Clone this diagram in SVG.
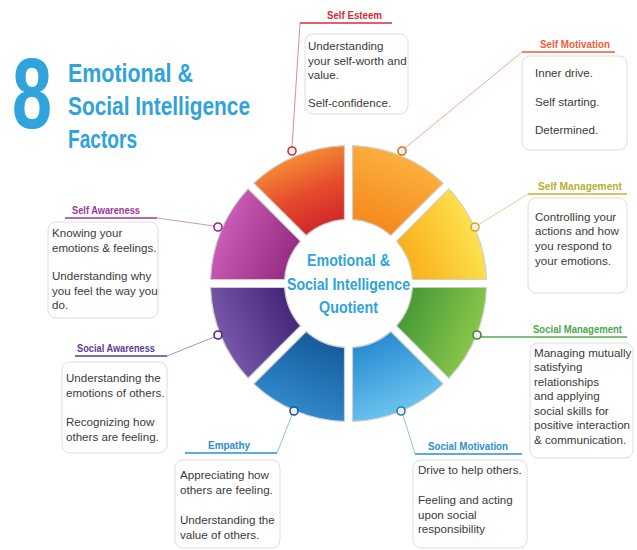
<svg xmlns="http://www.w3.org/2000/svg" width="637" height="550" viewBox="0 0 637 550">
<style>
.t{font-family:"Liberation Sans",Arial,sans-serif;font-size:11.6px;fill:#3a3a3a}
.lb{font-family:"Liberation Sans",Arial,sans-serif;font-size:11px;font-weight:bold}
.ti{font-family:"Liberation Sans",Arial,sans-serif;font-weight:bold;fill:#2ea3dc}
.box{fill:#fff;stroke:#dedede;stroke-width:1}
.seg{stroke:#cfcfcf;stroke-width:1.2}
.dot{fill:#f4eef4;stroke-width:1.6}
.con{fill:none;stroke-width:1}
.ul{fill:none;stroke-width:1.6}
</style>
<defs>
<linearGradient id="gSE" gradientUnits="userSpaceOnUse" x1="324" y1="224" x2="296" y2="156"><stop offset="0" stop-color="#d22a2b"/><stop offset="0.45" stop-color="#e44a2c"/><stop offset="1" stop-color="#f58b35"/></linearGradient>
<linearGradient id="gSMo" gradientUnits="userSpaceOnUse" x1="373" y1="224" x2="401" y2="156"><stop offset="0" stop-color="#f68a1e"/><stop offset="1" stop-color="#fbb03d"/></linearGradient>
<linearGradient id="gSMa" gradientUnits="userSpaceOnUse" x1="408" y1="259" x2="476" y2="231"><stop offset="0" stop-color="#f8b21d"/><stop offset="1" stop-color="#fde24f"/></linearGradient>
<linearGradient id="gSoM" gradientUnits="userSpaceOnUse" x1="408" y1="308" x2="476" y2="336"><stop offset="0" stop-color="#4a9c37"/><stop offset="1" stop-color="#88c64b"/></linearGradient>
<linearGradient id="gSoMo" gradientUnits="userSpaceOnUse" x1="373" y1="343" x2="401" y2="411"><stop offset="0" stop-color="#2a8ed3"/><stop offset="1" stop-color="#6cc3ee"/></linearGradient>
<linearGradient id="gEm" gradientUnits="userSpaceOnUse" x1="324" y1="343" x2="296" y2="411"><stop offset="0" stop-color="#165d9d"/><stop offset="1" stop-color="#3189ca"/></linearGradient>
<linearGradient id="gSoA" gradientUnits="userSpaceOnUse" x1="289" y1="308" x2="221" y2="336"><stop offset="0" stop-color="#46287c"/><stop offset="1" stop-color="#7657a8"/></linearGradient>
<linearGradient id="gSA" gradientUnits="userSpaceOnUse" x1="289" y1="259" x2="221" y2="231"><stop offset="0" stop-color="#982e85"/><stop offset="1" stop-color="#c95cb4"/></linearGradient>
</defs>
<rect width="637" height="550" fill="#fff"/>

<g id="title">
<text class="ti" x="12" y="128" font-size="100" textLength="40" lengthAdjust="spacingAndGlyphs">8</text>
<text class="ti" x="68" y="82" font-size="26" textLength="125" lengthAdjust="spacingAndGlyphs">Emotional &amp;</text>
<text class="ti" x="68" y="115" font-size="26" textLength="182" lengthAdjust="spacingAndGlyphs">Social Intelligence</text>
<text class="ti" x="68" y="148" font-size="26" textLength="69" lengthAdjust="spacingAndGlyphs">Factors</text>
</g>

<g id="connectors">
<path class="con" stroke="#e08a8f" d="M300 23 L292 147"/>
<path class="ul" stroke="#d9283c" d="M300 23 H392"/>
<path class="con" stroke="#f3a88f" d="M522 52 L405 148"/>
<path class="ul" stroke="#ef5d3a" d="M522 52 H615"/>
<path class="con" stroke="#d5d19a" d="M528 194 L478 225"/>
<path class="ul" stroke="#bdb63a" d="M528 194 H627"/>
<path class="ul" stroke="#4fae4d" d="M481 337 H627"/>
<path class="con" stroke="#8cc3e8" d="M415 454 L403 415"/>
<path class="ul" stroke="#2b8fd2" d="M415 454 H522"/>
<path class="con" stroke="#8cc3e8" d="M277 453 L292 415"/>
<path class="ul" stroke="#2b8fd2" d="M185 453 H277"/>
<path class="con" stroke="#a593c8" d="M167 356 L214 337"/>
<path class="ul" stroke="#5d3c95" d="M75 356 H167"/>
<path class="con" stroke="#c99ac4" d="M157 218 L214 226"/>
<path class="ul" stroke="#9c3796" d="M65 218 H157"/>
</g>

<g id="ring">
<path class="seg" fill="url(#gSMa)" d="M486.44 279.5 A138 138 0 0 0 448.87 188.79 L396.5 241.16 A64 64 0 0 1 412.38 279.5 Z"/>
<path class="seg" fill="url(#gSMo)" d="M443.21 183.13 A138 138 0 0 0 352.5 145.56 L352.5 219.62 A64 64 0 0 1 390.84 235.5 Z"/>
<path class="seg" fill="url(#gSE)" d="M344.5 145.56 A138 138 0 0 0 253.79 183.13 L306.16 235.5 A64 64 0 0 1 344.5 219.62 Z"/>
<path class="seg" fill="url(#gSA)" d="M248.13 188.79 A138 138 0 0 0 210.56 279.5 L284.62 279.5 A64 64 0 0 1 300.5 241.16 Z"/>
<path class="seg" fill="url(#gSoA)" d="M210.56 287.5 A138 138 0 0 0 248.13 378.21 L300.5 325.84 A64 64 0 0 1 284.62 287.5 Z"/>
<path class="seg" fill="url(#gEm)" d="M253.79 383.87 A138 138 0 0 0 344.5 421.44 L344.5 347.38 A64 64 0 0 1 306.16 331.5 Z"/>
<path class="seg" fill="url(#gSoMo)" d="M352.5 421.44 A138 138 0 0 0 443.21 383.87 L390.84 331.5 A64 64 0 0 1 352.5 347.38 Z"/>
<path class="seg" fill="url(#gSoM)" d="M448.87 378.21 A138 138 0 0 0 486.44 287.5 L412.38 287.5 A64 64 0 0 1 396.5 325.84 Z"/>
<circle class="dot" cx="292" cy="151" r="4" stroke="#c0392b"/>
<circle class="dot" cx="402" cy="151" r="4" stroke="#d9741a"/>
<circle class="dot" cx="475" cy="227" r="4" stroke="#d8a817"/>
<circle class="dot" cx="477" cy="335" r="4" stroke="#3c8a32"/>
<circle class="dot" cx="401" cy="411" r="4" stroke="#1f7fc0"/>
<circle class="dot" cx="294" cy="411" r="4" stroke="#165a98"/>
<circle class="dot" cx="218" cy="335" r="4" stroke="#4a2d80"/>
<circle class="dot" cx="218" cy="227" r="4" stroke="#8e2c7f"/>
<text class="ti" x="348.5" y="266" font-size="17" text-anchor="middle" textLength="83" lengthAdjust="spacingAndGlyphs">Emotional &amp;</text>
<text class="ti" x="348.5" y="290" font-size="17" text-anchor="middle" textLength="123" lengthAdjust="spacingAndGlyphs">Social Intelligence</text>
<text class="ti" x="348.5" y="313" font-size="17" text-anchor="middle" textLength="59" lengthAdjust="spacingAndGlyphs">Quotient</text>
</g>

<g id="self-esteem">
<text class="lb" x="327" y="19" fill="#d9283c" textLength="55" lengthAdjust="spacingAndGlyphs">Self Esteem</text>
<rect class="box" x="305" y="34" width="103" height="80" rx="8"/>
<text class="t" x="308" y="50">Understanding</text>
<text class="t" x="308" y="65">your self-worth and</text>
<text class="t" x="308" y="79">value.</text>
<text class="t" x="308" y="107">Self-confidence.</text>
</g>

<g id="self-motivation">
<text class="lb" x="540" y="48" fill="#ef5d3a" textLength="70" lengthAdjust="spacingAndGlyphs">Self Motivation</text>
<rect class="box" x="522" y="56" width="105" height="94" rx="8"/>
<text class="t" x="535" y="77">Inner drive.</text>
<text class="t" x="535" y="106">Self starting.</text>
<text class="t" x="535" y="134">Determined.</text>
</g>

<g id="self-management">
<text class="lb" x="538" y="190" fill="#b7b034" textLength="84" lengthAdjust="spacingAndGlyphs">Self Management</text>
<rect class="box" x="528" y="198" width="99" height="95" rx="8"/>
<text class="t" x="535" y="221">Controlling your</text>
<text class="t" x="535" y="235">actions and how</text>
<text class="t" x="535" y="250">you respond to</text>
<text class="t" x="535" y="265">your emotions.</text>
</g>

<g id="social-management">
<text class="lb" x="533" y="333" fill="#4aa84a" font-size="10.5" textLength="89" lengthAdjust="spacingAndGlyphs">Social Management</text>
<rect class="box" x="530" y="343" width="103" height="115" rx="8"/>
<text class="t" x="534" y="357">Managing mutually</text>
<text class="t" x="534" y="371">satisfying</text>
<text class="t" x="534" y="386">relationships</text>
<text class="t" x="534" y="400">and applying</text>
<text class="t" x="534" y="415">social skills for</text>
<text class="t" x="534" y="429">positive interaction</text>
<text class="t" x="534" y="444">&amp; communication.</text>
</g>

<g id="social-motivation">
<text class="lb" x="428" y="450" fill="#2b8fd2" textLength="80" lengthAdjust="spacingAndGlyphs">Social Motivation</text>
<rect class="box" x="413" y="460" width="114" height="88" rx="8"/>
<text class="t" x="418" y="474">Drive to help others.</text>
<text class="t" x="418" y="504">Feeling and acting</text>
<text class="t" x="418" y="519">upon social</text>
<text class="t" x="418" y="533">responsibility</text>
</g>

<g id="empathy">
<text class="lb" x="208" y="449" fill="#2b8fd2" textLength="42" lengthAdjust="spacingAndGlyphs">Empathy</text>
<rect class="box" x="175" y="460" width="105" height="88" rx="8"/>
<text class="t" x="180" y="479">Appreciating how</text>
<text class="t" x="180" y="494">others are feeling.</text>
<text class="t" x="180" y="524">Understanding the</text>
<text class="t" x="180" y="539">value of others.</text>
</g>

<g id="social-awareness">
<text class="lb" x="77" y="352" fill="#5d3c95" textLength="78" lengthAdjust="spacingAndGlyphs">Social Awareness</text>
<rect class="box" x="62" y="362" width="105" height="91" rx="8"/>
<text class="t" x="66" y="382">Understanding the</text>
<text class="t" x="66" y="397">emotions of others.</text>
<text class="t" x="66" y="426">Recognizing how</text>
<text class="t" x="66" y="441">others are feeling.</text>
</g>

<g id="self-awareness">
<text class="lb" x="72" y="214" fill="#9c3796" textLength="68" lengthAdjust="spacingAndGlyphs">Self Awareness</text>
<rect class="box" x="48" y="222" width="110" height="96" rx="8"/>
<text class="t" x="52" y="237">Knowing your</text>
<text class="t" x="52" y="252">emotions &amp; feelings.</text>
<text class="t" x="52" y="280">Understanding why</text>
<text class="t" x="52" y="295">you feel the way you</text>
<text class="t" x="52" y="309">do.</text>
</g>
</svg>
